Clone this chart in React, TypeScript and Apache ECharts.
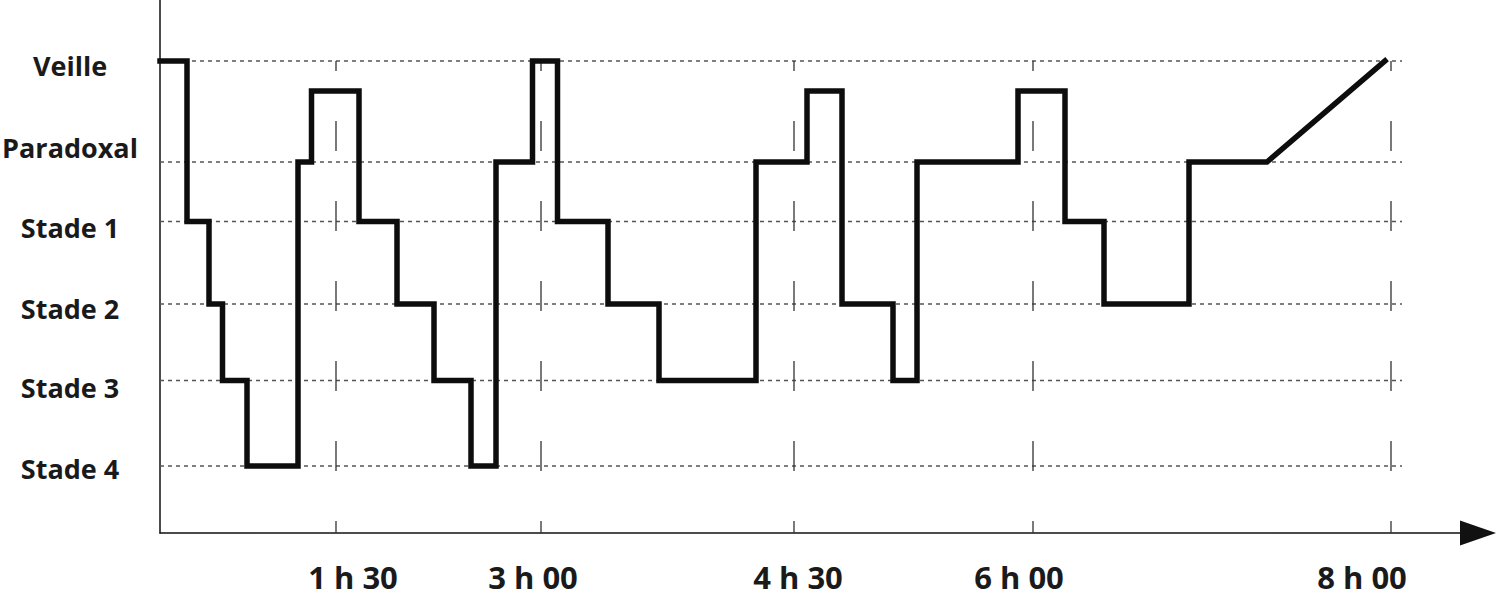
import React, { useEffect, useRef } from "react";
import * as echarts from "echarts";

// ---- Data (schematic hypnogram, x in drawing units along the time axis) ----
const stageNames = ["Veille", "Paradoxal", "Stade 1", "Stade 2", "Stade 3", "Stade 4"];
const stageLevels = [472, 371, 311.5, 229, 152.5, 67];
const peakLevel = 442; // unlabelled upper level reached after paradoxal phases
const stageLabelPos = [468, 386, 306, 225, 146, 65];

// segment boundaries and the stage held in each segment
const bounds = [0, 27, 49, 62.5, 87, 138, 151.5, 199, 237, 274, 311, 336, 372.5, 397.5, 448, 499, 596, 647, 682, 733, 757, 858, 905, 944, 1029, 1107];
const segStages = ["Veille", "Stade 1", "Stade 2", "Stade 3", "Stade 4", "Paradoxal", "Pic", "Stade 1", "Stade 2", "Stade 3", "Stade 4", "Paradoxal", "Veille", "Stade 1", "Stade 2", "Stade 3", "Paradoxal", "Pic", "Stade 2", "Stade 3", "Paradoxal", "Pic", "Stade 1", "Stade 2", "Paradoxal"];
const wakeEnd = 1225; // final rise to wakefulness

// time axis
const timeLabels = ["1 h 30", "3 h 00", "4 h 30", "6 h 00", "8 h 00"];
const timeLabelPos = [193, 373, 638, 859, 1202];
const timeMarkPos = [176, 381, 634, 873, 1231];

const gridEnd = 1242;
const xMax = 1318;
const yMax = 533;

function levelOf(name: string): number {
  if (name === "Pic") return peakLevel;
  return stageLevels[stageNames.indexOf(name)];
}

export default function App() {
  const ref = useRef<HTMLDivElement>(null);
  useEffect(() => {
    if (!ref.current) return;
    const chart = echarts.init(ref.current, null, { renderer: "svg" });

    const pts: number[][] = [];
    segStages.forEach((s, i) => {
      const l = levelOf(s);
      pts.push([bounds[i], l]);
      pts.push([bounds[i + 1], l]);
    });
    pts.push([wakeEnd, levelOf("Veille")]);

    const series: any[] = [];
    stageLevels.forEach((l) => {
      series.push({
        type: "line",
        data: [[0, l], [gridEnd, l]],
        symbol: "none",
        silent: true,
        z: 1,
        lineStyle: { color: "#555", width: 1.4, type: [4, 4] },
      });
    });
    timeMarkPos.forEach((x) => {
      series.push({
        type: "line",
        data: [[x, stageLevels[0]], [x, 0]],
        symbol: "none",
        silent: true,
        z: 1,
        lineStyle: { color: "#333", width: 1.3, type: [30, 50], dashOffset: 20 },
      });
    });
    series.push({
      type: "line",
      data: pts,
      symbol: "none",
      z: 5,
      clip: false,
      lineStyle: { color: "#0d0d0d", width: 5.5, join: "miter", cap: "square" },
    });

    chart.setOption({
      animation: false,
      grid: {
        left: 160,
        top: 0,
        right: 1507 - 160 - xMax,
        bottom: 610 - 533,
        containLabel: false,
        outerBoundsMode: "none",
      },
      xAxis: {
        type: "value",
        min: 0,
        max: xMax,
        axisLine: {
          show: true,
          lineStyle: { color: "#111", width: 1.5 },
          symbol: ["none", "triangle"],
          symbolSize: [25, 36],
        },
        axisTick: { show: false },
        splitLine: { show: false },
        axisLabel: {
          customValues: timeLabelPos,
          formatter: (v: number) => {
            const i = timeLabelPos.indexOf(v);
            return i >= 0 ? timeLabels[i] : "";
          },
          margin: 28,
          fontSize: 31,
          fontWeight: "bold",
          fontFamily: "Open Sans",
          color: "#1a1a1a",
        },
      },
      yAxis: {
        type: "value",
        min: 0,
        max: yMax,
        axisLine: { show: true, lineStyle: { color: "#111", width: 1.5 } },
        axisTick: { show: false },
        splitLine: { show: false },
        axisLabel: {
          customValues: stageLabelPos,
          formatter: (v: number) => {
            const i = stageLabelPos.indexOf(v);
            return i >= 0 ? stageNames[i] : "";
          },
          align: "center",
          margin: 90,
          fontSize: 27,
          fontWeight: "bold",
          fontFamily: "Open Sans",
          color: "#1a1a1a",
        },
      },
      series,
    });
    return () => chart.dispose();
  }, []);
  return <div ref={ref} style={{ position: "absolute", left: 0, top: 0, width: 1507, height: 610 }} />;
}
